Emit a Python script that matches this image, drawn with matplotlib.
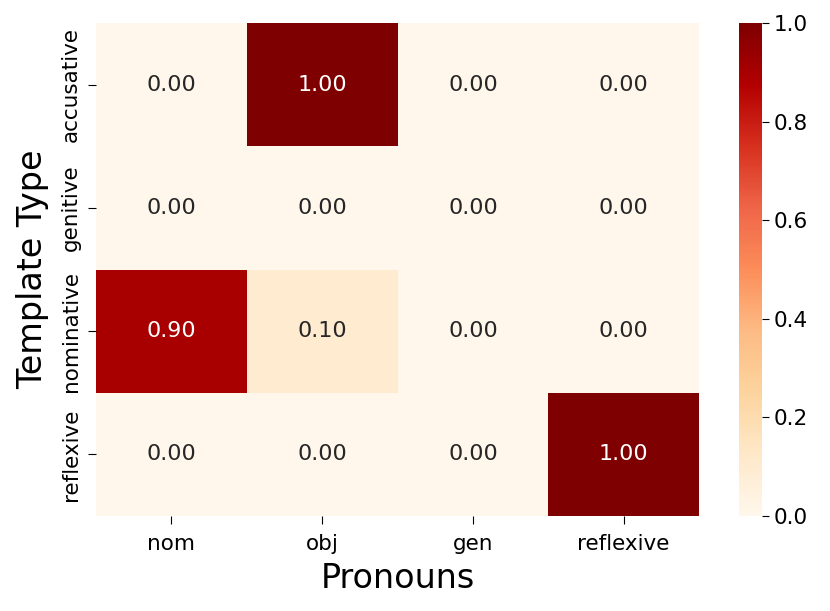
import numpy as np
import matplotlib
matplotlib.use("Agg")
import matplotlib.pyplot as plt
import seaborn as sns

pronouns = ["nom", "obj", "gen", "reflexive"]
templates = ["accusative", "genitive", "nominative", "reflexive"]
accusative = [0.00, 1.00, 0.00, 0.00]
genitive = [0.00, 0.00, 0.00, 0.00]
nominative = [0.90, 0.10, 0.00, 0.00]
reflexive = [0.00, 0.00, 0.00, 1.00]

data = np.array([accusative, genitive, nominative, reflexive])

W, H = 830, 611
fig = plt.figure(figsize=(8.3, 6.11), dpi=100)
ax = fig.add_axes([96 / W, (H - 516) / H, (699 - 96) / W, (516 - 23) / H])
cax = fig.add_axes([739 / W, (H - 516) / H, 23 / W, (516 - 23) / H])

sns.heatmap(data, ax=ax, cbar_ax=cax, cmap="OrRd", vmin=0, vmax=1,
            annot=True, fmt=".2f", annot_kws={"fontsize": 16},
            xticklabels=pronouns, yticklabels=templates)

ax.set_xlabel("Pronouns", fontsize=24, labelpad=6)
ax.set_ylabel("Template Type", fontsize=24, labelpad=8)
ax.tick_params(axis="x", labelsize=15.5, length=6, pad=7)
ax.tick_params(axis="y", labelsize=15.5, length=6, pad=5)
plt.setp(ax.get_yticklabels(), rotation=90, va="center")
cax.tick_params(labelsize=15.5, length=5)

fig.savefig("out.png", dpi=100)
